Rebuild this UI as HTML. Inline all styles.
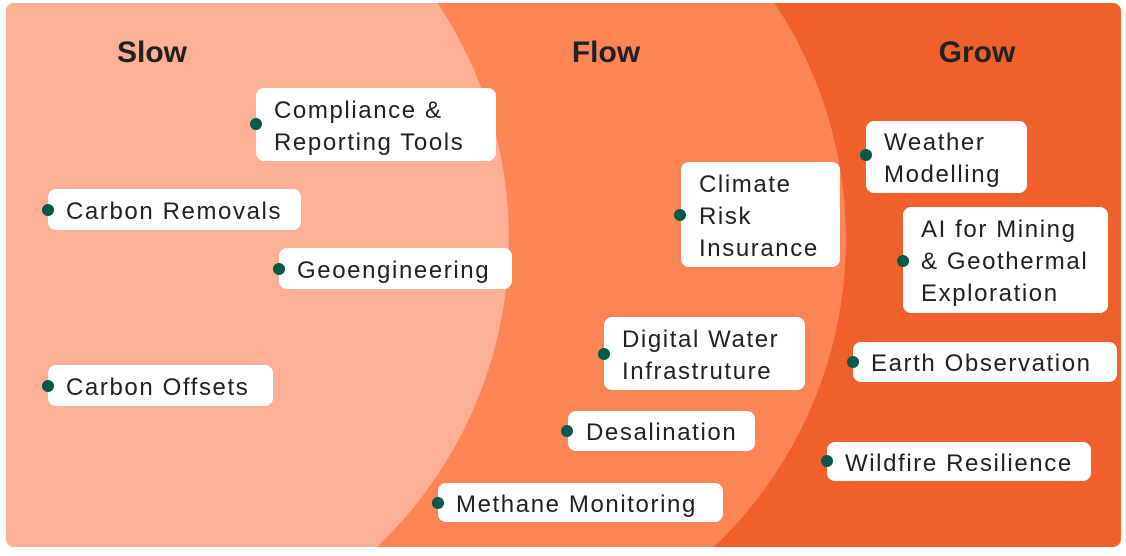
<!DOCTYPE html>
<html>
<head>
<meta charset="utf-8">
<style>
  html, body { margin: 0; padding: 0; background: #ffffff; width: 1126px; height: 556px; overflow: hidden; }
  body { position: relative; font-family: "Liberation Sans", Arial, sans-serif; }
  svg.bg { position: absolute; left: 0; top: 0; display: block; }
  .box {
    position: absolute; background: #ffffff; border-radius: 8px;
    box-sizing: border-box; padding-left: 18px;
    display: flex; flex-direction: column; justify-content: center;
    font-size: 24px; line-height: 32px; letter-spacing: 1.6px;
    color: #212121; white-space: nowrap; overflow: hidden;
  }
  .box .t { padding-top: 4px; }
  .dot {
    position: absolute; width: 12px; height: 12px; border-radius: 50%;
    background: #03594a; margin-left: -6px; margin-top: -6px;
  }
  .hdr {
    position: absolute; font-size: 30px; font-weight: bold; color: #222222;
    line-height: 30px; text-align: center; width: 200px; margin-left: -100px;
  }
</style>
</head>
<body>
<svg class="bg" width="1126" height="556" viewBox="0 0 1126 556" xmlns="http://www.w3.org/2000/svg">
  <defs>
    <clipPath id="c">
      <rect x="6" y="3" width="1115" height="544" rx="8" ry="8"/>
    </clipPath>
  </defs>
  <g clip-path="url(#c)">
    <rect x="6" y="3" width="1115" height="544" fill="#f0602a"/>
    <path d="M6 3 L774.45 3 A425 425 0 0 1 713.85 547 L6 547 Z" fill="#fc8556"/>
    <path d="M6 3 L437.45 3 A425 425 0 0 1 376.85 547 L6 547 Z" fill="#fdb093"/>
  </g>
</svg>

<div class="hdr" style="left:152px; top:38px;">Slow</div>
<div class="hdr" style="left:606px; top:38px;">Flow</div>
<div class="hdr" style="left:977px; top:38px;">Grow</div>

<!-- Compliance & Reporting Tools -->
<div class="box" style="left:256px; top:88px; width:240px; height:73px;"><div class="t">Compliance &amp;<br>Reporting Tools</div></div>
<div class="dot" style="left:256px; top:124px;"></div>

<!-- Carbon Removals -->
<div class="box" style="left:48px; top:189px; width:253px; height:41px;"><div class="t">Carbon Removals</div></div>
<div class="dot" style="left:48px; top:210px;"></div>

<!-- Geoengineering -->
<div class="box" style="left:279px; top:248px; width:233px; height:41px;"><div class="t">Geoengineering</div></div>
<div class="dot" style="left:279px; top:269px;"></div>

<!-- Carbon Offsets -->
<div class="box" style="left:48px; top:365px; width:225px; height:41px;"><div class="t">Carbon Offsets</div></div>
<div class="dot" style="left:48px; top:386px;"></div>

<!-- Climate Risk Insurance -->
<div class="box" style="left:681px; top:162px; width:159px; height:105px;"><div class="t">Climate<br>Risk<br>Insurance</div></div>
<div class="dot" style="left:680px; top:215px;"></div>

<!-- Weather Modelling -->
<div class="box" style="left:866px; top:121px; width:161px; height:72px;"><div class="t">Weather<br>Modelling</div></div>
<div class="dot" style="left:866px; top:155px;"></div>

<!-- AI for Mining & Geothermal Exploration -->
<div class="box" style="left:903px; top:207px; width:205px; height:106px;"><div class="t">AI for Mining<br>&amp; Geothermal<br>Exploration</div></div>
<div class="dot" style="left:903px; top:261px;"></div>

<!-- Digital Water Infrastruture -->
<div class="box" style="left:604px; top:317px; width:201px; height:73px;"><div class="t">Digital Water<br>Infrastruture</div></div>
<div class="dot" style="left:604px; top:354px;"></div>

<!-- Earth Observation -->
<div class="box" style="left:853px; top:342px; width:264px; height:40px;"><div class="t">Earth Observation</div></div>
<div class="dot" style="left:853px; top:362px;"></div>

<!-- Desalination -->
<div class="box" style="left:568px; top:411px; width:187px; height:40px;"><div class="t">Desalination</div></div>
<div class="dot" style="left:567px; top:431px;"></div>

<!-- Wildfire Resilience -->
<div class="box" style="left:827px; top:442px; width:264px; height:39px;"><div class="t">Wildfire Resilience</div></div>
<div class="dot" style="left:827px; top:461px;"></div>

<!-- Methane Monitoring -->
<div class="box" style="left:438px; top:483px; width:285px; height:39px;"><div class="t">Methane Monitoring</div></div>
<div class="dot" style="left:438px; top:503px;"></div>

</body>
</html>
